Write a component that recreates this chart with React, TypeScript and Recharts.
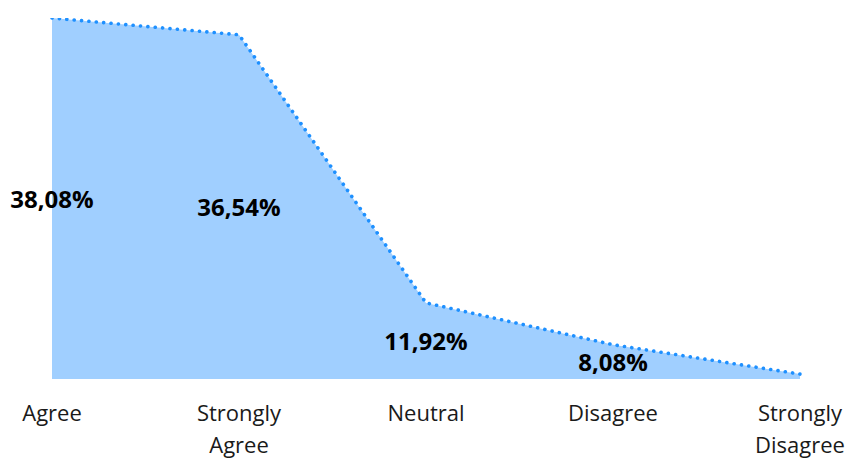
import React from "react";
import { AreaChart, Area, XAxis, YAxis, LabelList } from "recharts";

const categories = ["Agree", "Strongly Agree", "Neutral", "Disagree", "Strongly Disagree"];
const percentages = [38.08, 36.54, 11.92, 8.08, 5.38];
const yDomain: [number, number] = [4.93, 38.08];

const data = categories.map((name, i) => ({ name, value: percentages[i] }));

const W = 837;
const H = 453;
const MARGIN = { top: 10, right: 45, bottom: 2, left: 44 };
const XAXIS_H = 80;
const BASELINE = H - MARGIN.bottom - XAXIS_H;
const FONT = "'Open Sans', 'Noto Sans', sans-serif";

const fmt = (v: number) => v.toFixed(2).replace(".", ",") + "%";

const ValueLabel = (props: any) => {
  const { x, y, value } = props;
  if (x == null || y == null) return null;
  const h = BASELINE - y;
  if (h < 20) return null;
  return (
    <text
      x={x}
      y={(y + BASELINE) / 2}
      textAnchor="middle"
      dominantBaseline="central"
      fontFamily={FONT}
      fontWeight={700}
      fontSize={24}
      fill="#000"
    >
      {fmt(Number(value))}
    </text>
  );
};

const Tick = (props: any) => {
  const { x, payload } = props;
  const words = String(payload.value).split(" ");
  return (
    <text
      x={x}
      textAnchor="middle"
      dominantBaseline="central"
      fontFamily={FONT}
      fontSize={22}
      fill="#1a1a1a"
    >
      {words.map((w, i) => (
        <tspan key={i} x={x} y={BASELINE + 33 + i * 32}>
          {w}
        </tspan>
      ))}
    </text>
  );
};

export default function App() {
  return (
    <AreaChart width={W} height={H} data={data} margin={MARGIN}>
      <XAxis
        dataKey="name"
        interval={0}
        tick={<Tick />}
        tickLine={false}
        axisLine={false}
        height={XAXIS_H}
      />
      <YAxis hide domain={yDomain} allowDataOverflow />
      <Area
        type="linear"
        dataKey="value"
        stroke="#1E90FF"
        strokeWidth={3.6}
        strokeDasharray="0.1 7.3"
        strokeLinecap="round"
        fill="#A0CFFF"
        fillOpacity={1}
        isAnimationActive={false}
        dot={false}
        activeDot={false}
      >
        <LabelList dataKey="value" content={<ValueLabel />} />
      </Area>
    </AreaChart>
  );
}
